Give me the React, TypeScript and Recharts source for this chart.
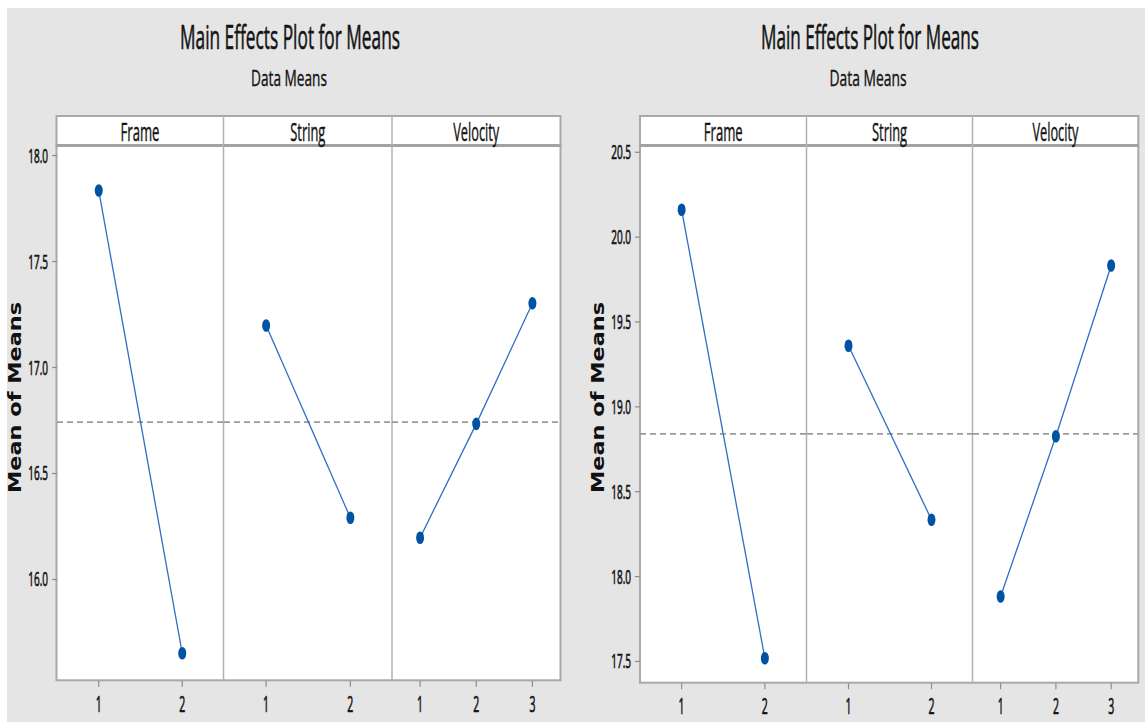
import React from 'react';
import { LineChart, Line, XAxis, YAxis, ReferenceLine } from 'recharts';

// ---------- data ----------
const factorNames = ['Frame', 'String', 'Velocity'];
const frameLevels = [1, 2];
const stringLevels = [1, 2];
const velocityLevels = [1, 2, 3];

const leftFrameMeans = [17.835, 15.652];
const leftStringMeans = [17.198, 16.291];
const leftVelocityMeans = [16.197, 16.734, 17.303];
const leftGrandMean = 16.742;
const leftYTicks = [16.0, 16.5, 17.0, 17.5, 18.0];
const leftYDomain = [15.522, 18.045];

const rightFrameMeans = [20.161, 17.519];
const rightStringMeans = [19.36, 18.335];
const rightVelocityMeans = [17.883, 18.827, 19.833];
const rightGrandMean = 18.841;
const rightYTicks = [17.5, 18.0, 18.5, 19.0, 19.5, 20.0, 20.5];
const rightYDomain = [17.372, 20.537];

const plotTitle = 'Main Effects Plot for Means';
const plotSubtitle = 'Data Means';
const yAxisTitle = 'Mean of Means';

// ---------- styling / layout ----------
const FONT = "'Open Sans', 'Noto Sans', sans-serif";
const BG = '#e5e5e5';
const BORDER = '#a9a9a9';
const LINE = '#2f6ec2';
const DOT = '#0052a3';
const TICK = '#8c8c8c';
const TEXT = '#141414';
const Y_AXIS_W = 50;
const X_AXIS_H = 40;
const TOP_PAD = 16;

const headerTextWidths = [39, 35, 46];

const figures = [
  {
    levels: [frameLevels, stringLevels, velocityLevels],
    means: [leftFrameMeans, leftStringMeans, leftVelocityMeans],
    grand: leftGrandMean,
    yTicks: leftYTicks,
    yDomain: leftYDomain,
    facetX: [56.5, 223.5, 392, 560.5],
    headerTop: 116,
    plotTop: 145.5,
    plotBottom: 680.3,
    titleX: 290,
    titleW: 220,
    subX: 289,
    subW: 76,
    yLabelX: 14.5,
  },
  {
    levels: [frameLevels, stringLevels, velocityLevels],
    means: [rightFrameMeans, rightStringMeans, rightVelocityMeans],
    grand: rightGrandMean,
    yTicks: rightYTicks,
    yDomain: rightYDomain,
    facetX: [640, 806.5, 972.5, 1138.3],
    headerTop: 116,
    plotTop: 145.5,
    plotBottom: 682.7,
    titleX: 870,
    titleW: 218,
    subX: 868,
    subW: 77,
    yLabelX: 598,
  },
];

const YTick = (props: any) => {
  const { x, y, payload } = props;
  return (
    <text
      transform={`translate(${x},${y + 7}) scale(0.5,1)`}
      textAnchor="end"
      fontFamily={FONT}
      fontSize={20}
      fill={TEXT}
      stroke={TEXT}
      strokeWidth={0.7}
    >
      {Number(payload.value).toFixed(1)}
    </text>
  );
};

const XTick = (props: any) => {
  const { x, y, payload } = props;
  return (
    <text
      transform={`translate(${x},${y + 23}) scale(0.5,1)`}
      textAnchor="middle"
      fontFamily={FONT}
      fontSize={21}
      fill={TEXT}
      stroke={TEXT}
      strokeWidth={0.7}
    >
      {payload.value}
    </text>
  );
};

const Marker = (props: any) => {
  const { cx, cy, index } = props;
  if (cx == null || cy == null) return <g key={`d-${index}`} />;
  return <ellipse key={`d-${index}`} cx={cx} cy={cy} rx={4} ry={6.3} fill={DOT} />;
};

function Facet({ fig, i }: { fig: any; i: number }) {
  const levels: number[] = fig.levels[i];
  const values: number[] = fig.means[i];
  const data = levels.map((l, k) => ({ level: l, mean: values[k] }));
  const x0 = fig.facetX[i];
  const x1 = fig.facetX[i + 1];
  const first = i === 0;
  const left = x0 - (first ? Y_AXIS_W : 0);
  const width = x1 - x0 + (first ? Y_AXIS_W : 0);
  const height = fig.plotBottom - fig.plotTop + X_AXIS_H + TOP_PAD;
  return (
    <div style={{ position: 'absolute', left, top: fig.plotTop - TOP_PAD, width, height }}>
      <LineChart
        width={width}
        height={height}
        data={data}
        margin={{ top: TOP_PAD, right: 0, bottom: 0, left: 0 }}
      >
        <XAxis
          dataKey="level"
          type="number"
          domain={[0.5, levels.length + 0.5]}
          ticks={levels}
          interval={0}
          allowDataOverflow
          axisLine={false}
          tickLine={{ stroke: TICK, strokeWidth: 1.2 }}
          tickSize={6}
          tickMargin={2}
          height={X_AXIS_H}
          tick={<XTick />}
        />
        {first ? (
          <YAxis
            type="number"
            domain={fig.yDomain}
            ticks={fig.yTicks}
            interval={0}
            allowDataOverflow
            axisLine={false}
            tickLine={{ stroke: TICK, strokeWidth: 1.2 }}
            tickSize={5}
            tickMargin={4}
            width={Y_AXIS_W}
            tick={<YTick />}
          />
        ) : (
          <YAxis type="number" domain={fig.yDomain} allowDataOverflow hide />
        )}
        <ReferenceLine
          y={fig.grand}
          stroke="#9a9a9a"
          strokeWidth={1.7}
          strokeDasharray="6 4"
        />
        <Line
          type="linear"
          dataKey="mean"
          stroke={LINE}
          strokeWidth={1.3}
          dot={<Marker />}
          activeDot={false}
          isAnimationActive={false}
        />
      </LineChart>
    </div>
  );
}

function Frame({ fig }: { fig: any }) {
  const [a, b, c, d] = fig.facetX;
  const centers = [(a + b) / 2, (b + c) / 2, (c + d) / 2];
  const yMid = 397.5;
  return (
    <g>
      <text
        x={fig.titleX}
        y={49}
        textAnchor="middle"
        fontFamily={FONT}
        fontSize={32}
        fill={TEXT}
        stroke={TEXT}
        strokeWidth={0.6}
        textLength={fig.titleW}
        lengthAdjust="spacingAndGlyphs"
      >
        {plotTitle}
      </text>
      <text
        x={fig.subX}
        y={86}
        textAnchor="middle"
        fontFamily={FONT}
        fontSize={22}
        fill={TEXT}
        stroke={TEXT}
        strokeWidth={0.4}
        textLength={fig.subW}
        lengthAdjust="spacingAndGlyphs"
      >
        {plotSubtitle}
      </text>
      <rect
        x={a}
        y={fig.headerTop}
        width={d - a}
        height={fig.plotTop - fig.headerTop}
        fill="#fff"
        stroke={BORDER}
        strokeWidth={2}
      />
      <rect
        x={a}
        y={fig.plotTop}
        width={d - a}
        height={fig.plotBottom - fig.plotTop}
        fill="#fff"
        stroke={BORDER}
        strokeWidth={2}
      />
      <line x1={a} x2={d} y1={fig.plotTop} y2={fig.plotTop} stroke="#a2a2a2" strokeWidth={3} />
      {[b, c].map((x, k) => (
        <line
          key={k}
          x1={x}
          x2={x}
          y1={fig.headerTop}
          y2={fig.plotBottom}
          stroke="#b2b2b2"
          strokeWidth={1.5}
        />
      ))}
      {factorNames.map((name, k) => (
        <text
          key={name}
          x={centers[k]}
          y={141}
          textAnchor="middle"
          fontFamily={FONT}
          fontSize={25}
          fill={TEXT}
          stroke={TEXT}
          strokeWidth={0.45}
          textLength={headerTextWidths[k]}
          lengthAdjust="spacingAndGlyphs"
        >
          {name}
        </text>
      ))}
      <text
        transform={`translate(${fig.yLabelX + 6.2},${yMid}) rotate(-90)`}
        textAnchor="middle"
        fontFamily="'DejaVu Sans', sans-serif"
        fontWeight="bold"
        fontSize={17}
        fill="#111"
        textLength={191}
        lengthAdjust="spacingAndGlyphs"
      >
        {yAxisTitle}
      </text>
    </g>
  );
}

export default function App() {
  return (
    <div style={{ position: 'absolute', left: 0, top: 0, width: 1145, height: 722, overflow: 'hidden' }}>
      <svg width={1145} height={722} style={{ position: 'absolute', left: 0, top: 0 }}>
        <rect x={0} y={0} width={1145} height={722} fill="#fff" />
        <rect x={7} y={8} width={1138} height={714} fill={BG} />
        {figures.map((fig, k) => (
          <Frame key={k} fig={fig} />
        ))}
      </svg>
      {figures.map((fig, k) =>
        [0, 1, 2].map((i) => <Facet key={`${k}-${i}`} fig={fig} i={i} />)
      )}
    </div>
  );
}
